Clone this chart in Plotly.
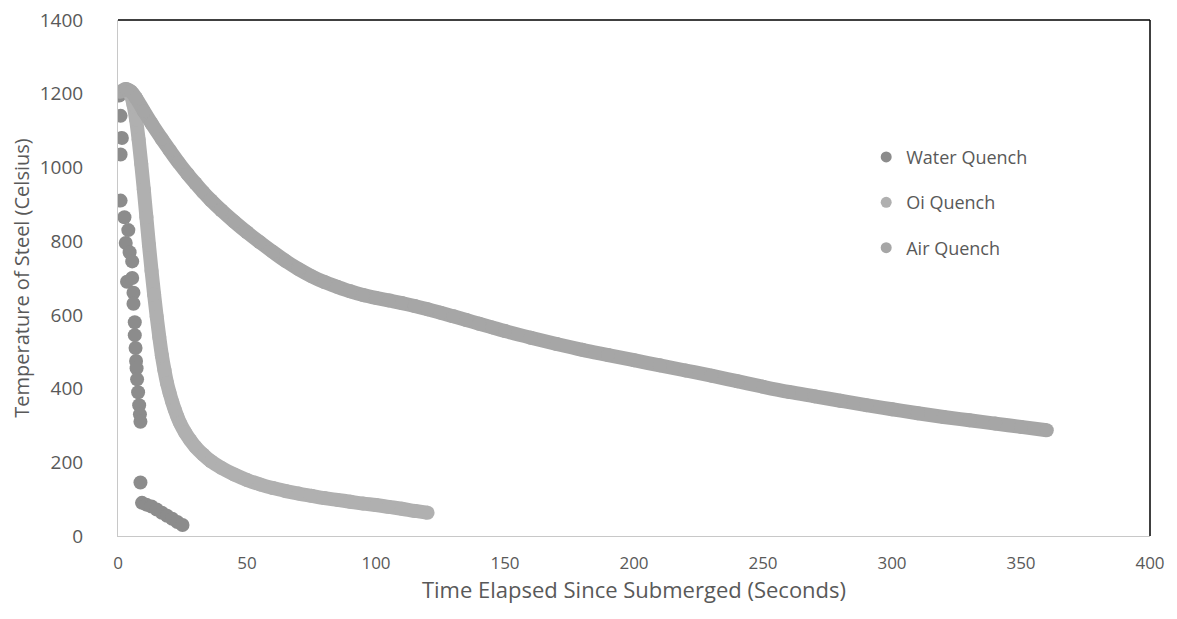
import plotly.graph_objects as go

# ---- Data ----
water_t = [0.5, 1, 1.5, 1, 1, 2.5, 4, 3, 4.5, 5.5, 3.5, 5.5, 6, 6, 6.5, 6.5, 6.8, 7, 7.2, 7.4,
           7.8, 8.2, 8.5, 8.7, 8.7, 9.3, 11, 13, 15, 17, 19, 21, 23, 25]
water_T = [1195, 1140, 1080, 1035, 910, 865, 830, 795, 770, 745, 690, 700, 660, 630, 580, 545,
           510, 475, 455, 425, 390, 355, 330, 310, 145, 90, 85, 80, 72, 63, 55, 47, 38, 30]

oil_t = [4, 5, 6, 7, 8, 9, 10, 11, 12, 13, 14, 15, 16, 17, 18, 19, 20, 21, 22, 23, 24, 26, 28,
         30, 33, 36, 40, 45, 50, 55, 60, 65, 70, 75, 80, 85, 90, 95, 100, 105, 110, 115, 120]
oil_T = [1205, 1195, 1170, 1130, 1075, 1010, 940, 865, 790, 720, 655, 595, 540, 490, 450, 415,
         388, 364, 343, 324, 307, 281, 260, 242, 221, 203, 185, 167, 152, 140, 130, 122, 115,
         109, 103, 98, 93, 88, 84, 79, 74, 68, 63]

air_t = [1, 3, 5, 7, 10, 13, 17, 20, 23.5, 27, 30, 33, 36, 40, 45, 50, 55, 60, 65, 70, 75, 80,
         85, 90, 95, 100, 105, 110, 115, 120, 125, 130, 135, 140, 145, 150, 160, 170, 180, 190,
         200, 210, 220, 230, 240, 250, 260, 270, 280, 290, 300, 310, 320, 330, 340, 350, 360]
air_T = [1205, 1213, 1206, 1188, 1153, 1119, 1077, 1047, 1013, 982, 957, 933, 911, 884, 853,
         824, 797, 771, 746, 724, 705, 689, 676, 664, 654, 646, 639, 632, 624, 615, 606, 596,
         586, 576, 566, 556, 538, 521, 505, 491, 477, 463, 449, 435, 420, 405, 391, 379, 367,
         355, 344, 333, 323, 314, 305, 296, 287]

series_names = ["Water Quench", "Oi Quench", "Air Quench"]
water_color = "#8c8c8c"
oil_color = "#b0b0b0"
air_color = "#a6a6a6"

x_ticks = [0, 50, 100, 150, 200, 250, 300, 350, 400]
y_ticks = [0, 200, 400, 600, 800, 1000, 1200, 1400]

fig = go.Figure()

fig.add_trace(go.Scatter(x=water_t, y=water_T, mode="markers", showlegend=False,
                         marker=dict(size=14, color=water_color, line=dict(width=0))))
fig.add_trace(go.Scatter(x=oil_t, y=oil_T, mode="lines+markers", showlegend=False,
                         line=dict(color=oil_color, width=14, shape="spline"),
                         marker=dict(size=14, color=oil_color, line=dict(width=0))))
fig.add_trace(go.Scatter(x=air_t, y=air_T, mode="lines+markers", showlegend=False,
                         line=dict(color=air_color, width=14, shape="spline"),
                         marker=dict(size=14, color=air_color, line=dict(width=0))))

# legend entries (dot only)
for name, col, grp in zip(series_names, [water_color, oil_color, air_color], ["a", "b", "c"]):
    fig.add_trace(go.Scatter(x=[None], y=[None], mode="markers", name=name, legendgroup=grp,
                             marker=dict(size=11, color=col)))

font_family = "Open Sans, sans-serif"
grey = "#595959"

fig.update_layout(
    width=1177, height=619,
    margin=dict(l=110, r=35, t=12, b=91),
    plot_bgcolor="white", paper_bgcolor="white",
    font=dict(family=font_family, color=grey),
    xaxis=dict(range=[0, 400], tickvals=x_ticks, showgrid=False, zeroline=False,
               showline=True, linecolor="#c8c8c8", linewidth=1, ticks="",
               automargin=False,
               ticklabelstandoff=12, ticklabeloverflow="allow",
               tickfont=dict(family=font_family, size=17, color=grey),
               title=dict(text="Time Elapsed Since Submerged (Seconds)",
                          font=dict(family=font_family, size=22, color=grey),
                          standoff=1)),
    yaxis=dict(range=[0, 1400], tickvals=y_ticks, showgrid=False, zeroline=False,
               showline=True, linecolor="#c8c8c8", linewidth=1, ticks="",
               automargin=False,
               ticklabelstandoff=30, ticklabeloverflow="allow",
               tickfont=dict(family=font_family, size=19, color=grey),
               title=dict(text="Temperature of Steel (Celsius)",
                          font=dict(family=font_family, size=20, color=grey),
                          standoff=6)),
    legend=dict(x=0.725, y=0.77, xanchor="left", yanchor="top",
                font=dict(family=font_family, size=18, color=grey),
                tracegroupgap=19, bgcolor="rgba(0,0,0,0)", itemwidth=30),
    shapes=[
        dict(type="line", xref="paper", yref="paper", x0=0, x1=1, y0=1, y1=1,
             line=dict(color="black", width=1.5)),
        dict(type="line", xref="paper", yref="paper", x0=1, x1=1, y0=0, y1=1,
             line=dict(color="black", width=1.5)),
    ],
)

fig.write_html("out.html")
